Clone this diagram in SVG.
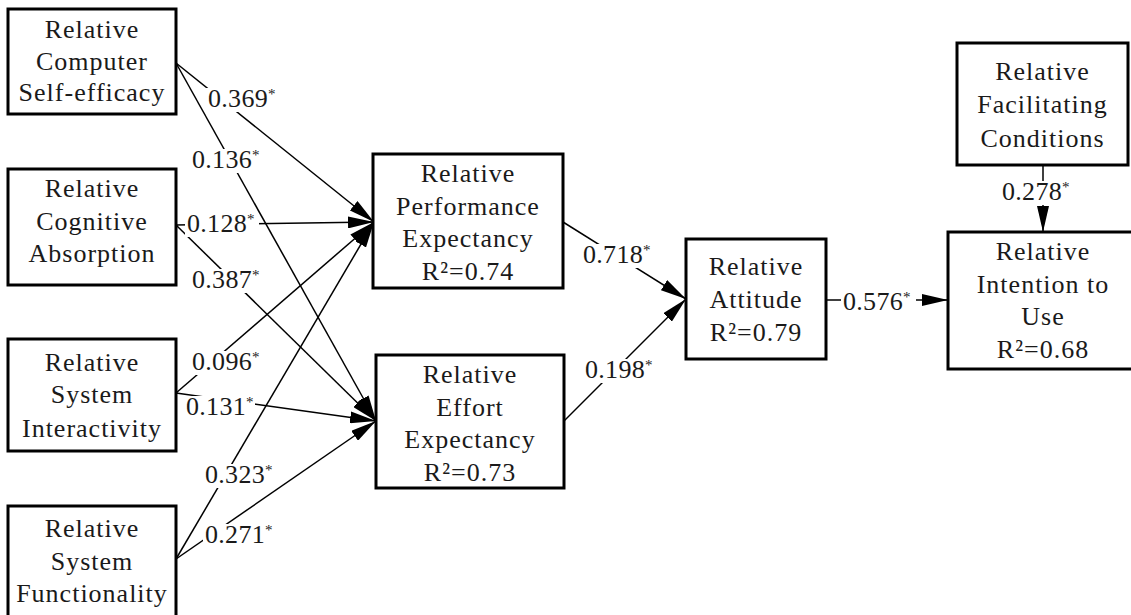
<svg xmlns="http://www.w3.org/2000/svg" width="1131" height="615" viewBox="0 0 1131 615">
<style>
.box{fill:#fff;stroke:#000;stroke-width:3}
.t{font-family:"Liberation Serif","Times New Roman",serif;font-size:26px;fill:#1a1a1a;text-anchor:middle;letter-spacing:1px}
.e{stroke:#000;stroke-width:1.5;fill:none;marker-end:url(#ah)}
.lb{fill:#fff}
.l{font-family:"Liberation Serif","Times New Roman",serif;font-size:26px;fill:#1a1a1a;letter-spacing:0.3px}
.s{font-size:15px}
</style>
<defs>
<marker id="ah" markerUnits="userSpaceOnUse" markerWidth="26" markerHeight="12" refX="26" refY="6" orient="auto">
<path d="M0,0 L26,6 L0,12 Z" fill="#000"/>
</marker>
</defs>
<rect width="1131" height="615" fill="#fff"/>
<g id="connectors">
<line class="e" x1="176" y1="63" x2="374" y2="222"/>
<line class="e" x1="176" y1="63" x2="376" y2="421"/>
<line class="e" x1="176" y1="225" x2="374" y2="222"/>
<line class="e" x1="176" y1="225" x2="376" y2="421"/>
<line class="e" x1="176" y1="393" x2="374" y2="222"/>
<line class="e" x1="176" y1="393" x2="376" y2="421"/>
<line class="e" x1="176" y1="559" x2="374" y2="222"/>
<line class="e" x1="176" y1="559" x2="376" y2="421"/>
<line class="e" x1="563" y1="222" x2="686" y2="299"/>
<line class="e" x1="564" y1="421" x2="686" y2="299"/>
<line class="e" x1="826" y1="300" x2="948" y2="300"/>
<line class="e" x1="1043" y1="165" x2="1043" y2="232"/>
<g id="labels">
<rect class="lb" x="206" y="88" width="73" height="24"/>
<text class="l" x="208" y="107">0.369<tspan class="s" dy="-8">*</tspan></text>
<rect class="lb" x="190" y="149" width="72" height="24"/>
<text class="l" x="192" y="168">0.136<tspan class="s" dy="-8">*</tspan></text>
<rect class="lb" x="185" y="213" width="74" height="24"/>
<text class="l" x="187" y="232">0.128<tspan class="s" dy="-8">*</tspan></text>
<rect class="lb" x="190" y="269" width="72" height="24"/>
<text class="l" x="192" y="288">0.387<tspan class="s" dy="-8">*</tspan></text>
<rect class="lb" x="190" y="351" width="72" height="24"/>
<text class="l" x="192" y="370">0.096<tspan class="s" dy="-8">*</tspan></text>
<rect class="lb" x="184" y="396" width="71" height="24"/>
<text class="l" x="186" y="415">0.131<tspan class="s" dy="-8">*</tspan></text>
<rect class="lb" x="203" y="464" width="72" height="24"/>
<text class="l" x="205" y="483">0.323<tspan class="s" dy="-8">*</tspan></text>
<rect class="lb" x="203" y="524" width="72" height="24"/>
<text class="l" x="205" y="543">0.271<tspan class="s" dy="-8">*</tspan></text>
<rect class="lb" x="581" y="244" width="73" height="24"/>
<text class="l" x="583" y="263">0.718<tspan class="s" dy="-8">*</tspan></text>
<rect class="lb" x="583" y="359" width="73" height="24"/>
<text class="l" x="585" y="378">0.198<tspan class="s" dy="-8">*</tspan></text>
<rect class="lb" x="841" y="291" width="75" height="24"/>
<text class="l" x="843" y="310">0.576<tspan class="s" dy="-8">*</tspan></text>
<rect class="lb" x="1000" y="181" width="74" height="24"/>
<text class="l" x="1002" y="200">0.278<tspan class="s" dy="-8">*</tspan></text>
</g>
</g>
<g id="n-cse">
<rect class="box" x="8" y="9" width="168" height="105"/>
<text class="t" x="92" y="38">Relative</text>
<text class="t" x="92" y="70">Computer</text>
<text class="t" x="92" y="101">Self-efficacy</text>
</g>
<g id="n-ca">
<rect class="box" x="8" y="169" width="168" height="116"/>
<text class="t" x="92" y="197">Relative</text>
<text class="t" x="92" y="230">Cognitive</text>
<text class="t" x="92" y="262">Absorption</text>
</g>
<g id="n-si">
<rect class="box" x="8" y="339" width="168" height="112"/>
<text class="t" x="92" y="371">Relative</text>
<text class="t" x="92" y="403">System</text>
<text class="t" x="92" y="437">Interactivity</text>
</g>
<g id="n-sf">
<rect class="box" x="8" y="506" width="168" height="114"/>
<text class="t" x="92" y="537">Relative</text>
<text class="t" x="92" y="570">System</text>
<text class="t" x="92" y="602">Functionality</text>
</g>
<g id="n-pe">
<rect class="box" x="373" y="154" width="190" height="134"/>
<text class="t" x="468" y="182">Relative</text>
<text class="t" x="468" y="215">Performance</text>
<text class="t" x="468" y="247">Expectancy</text>
<text class="t" x="468" y="280">R²=0.74</text>
</g>
<g id="n-ee">
<rect class="box" x="376" y="355" width="188" height="133"/>
<text class="t" x="470" y="383">Relative</text>
<text class="t" x="470" y="416">Effort</text>
<text class="t" x="470" y="448">Expectancy</text>
<text class="t" x="470" y="481">R²=0.73</text>
</g>
<g id="n-at">
<rect class="box" x="686" y="239" width="140" height="120"/>
<text class="t" x="756" y="275">Relative</text>
<text class="t" x="756" y="308">Attitude</text>
<text class="t" x="756" y="341">R²=0.79</text>
</g>
<g id="n-fc">
<rect class="box" x="957" y="43" width="171" height="122"/>
<text class="t" x="1042.5" y="80">Relative</text>
<text class="t" x="1042.5" y="113">Facilitating</text>
<text class="t" x="1042.5" y="147">Conditions</text>
</g>
<g id="n-iu">
<rect class="box" x="948" y="232" width="190" height="137"/>
<text class="t" x="1043" y="260">Relative</text>
<text class="t" x="1043" y="293">Intention to</text>
<text class="t" x="1043" y="325">Use</text>
<text class="t" x="1043" y="358">R²=0.68</text>
</g>
</svg>
